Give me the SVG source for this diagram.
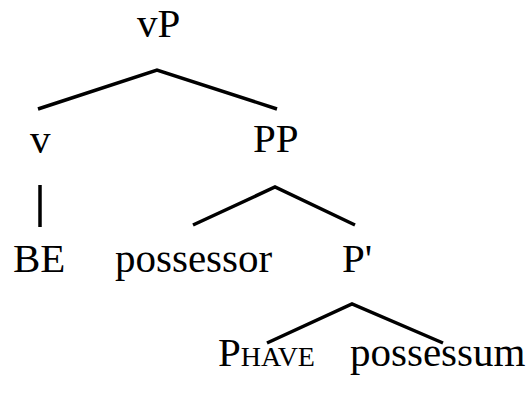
<svg xmlns="http://www.w3.org/2000/svg" width="531" height="399" viewBox="0 0 531 399">
<style>
text{font-family:"Liberation Serif","Times New Roman",serif;font-size:41px;fill:#000}
.sc{font-size:28px}
.e{stroke:#000;stroke-width:3.5;fill:none;stroke-linecap:butt;stroke-linejoin:miter}
</style>
<rect width="531" height="399" fill="#fff"/>
<g id="connectors">
<polyline class="e" points="38,109 157,70 277,109"/>
<line class="e" x1="40" y1="185" x2="40" y2="227"/>
<polyline class="e" points="193,225 275,187 355,225"/>
<polyline class="e" points="267,343 352,304 443,343"/>
</g>
<g id="vP"><text x="137" y="37">vP</text></g>
<g id="v"><text x="30" y="153">v</text></g>
<g id="PP"><text x="253" y="152">PP</text></g>
<g id="BE"><text x="13" y="272">BE</text></g>
<g id="possessor"><text x="115" y="272">possessor</text></g>
<g id="Pbar"><text x="342" y="272">P'</text></g>
<g id="Phave"><text x="218" y="366">P<tspan class="sc">HAVE</tspan></text></g>
<g id="possessum"><text x="350" y="366">possessum</text></g>
</svg>
